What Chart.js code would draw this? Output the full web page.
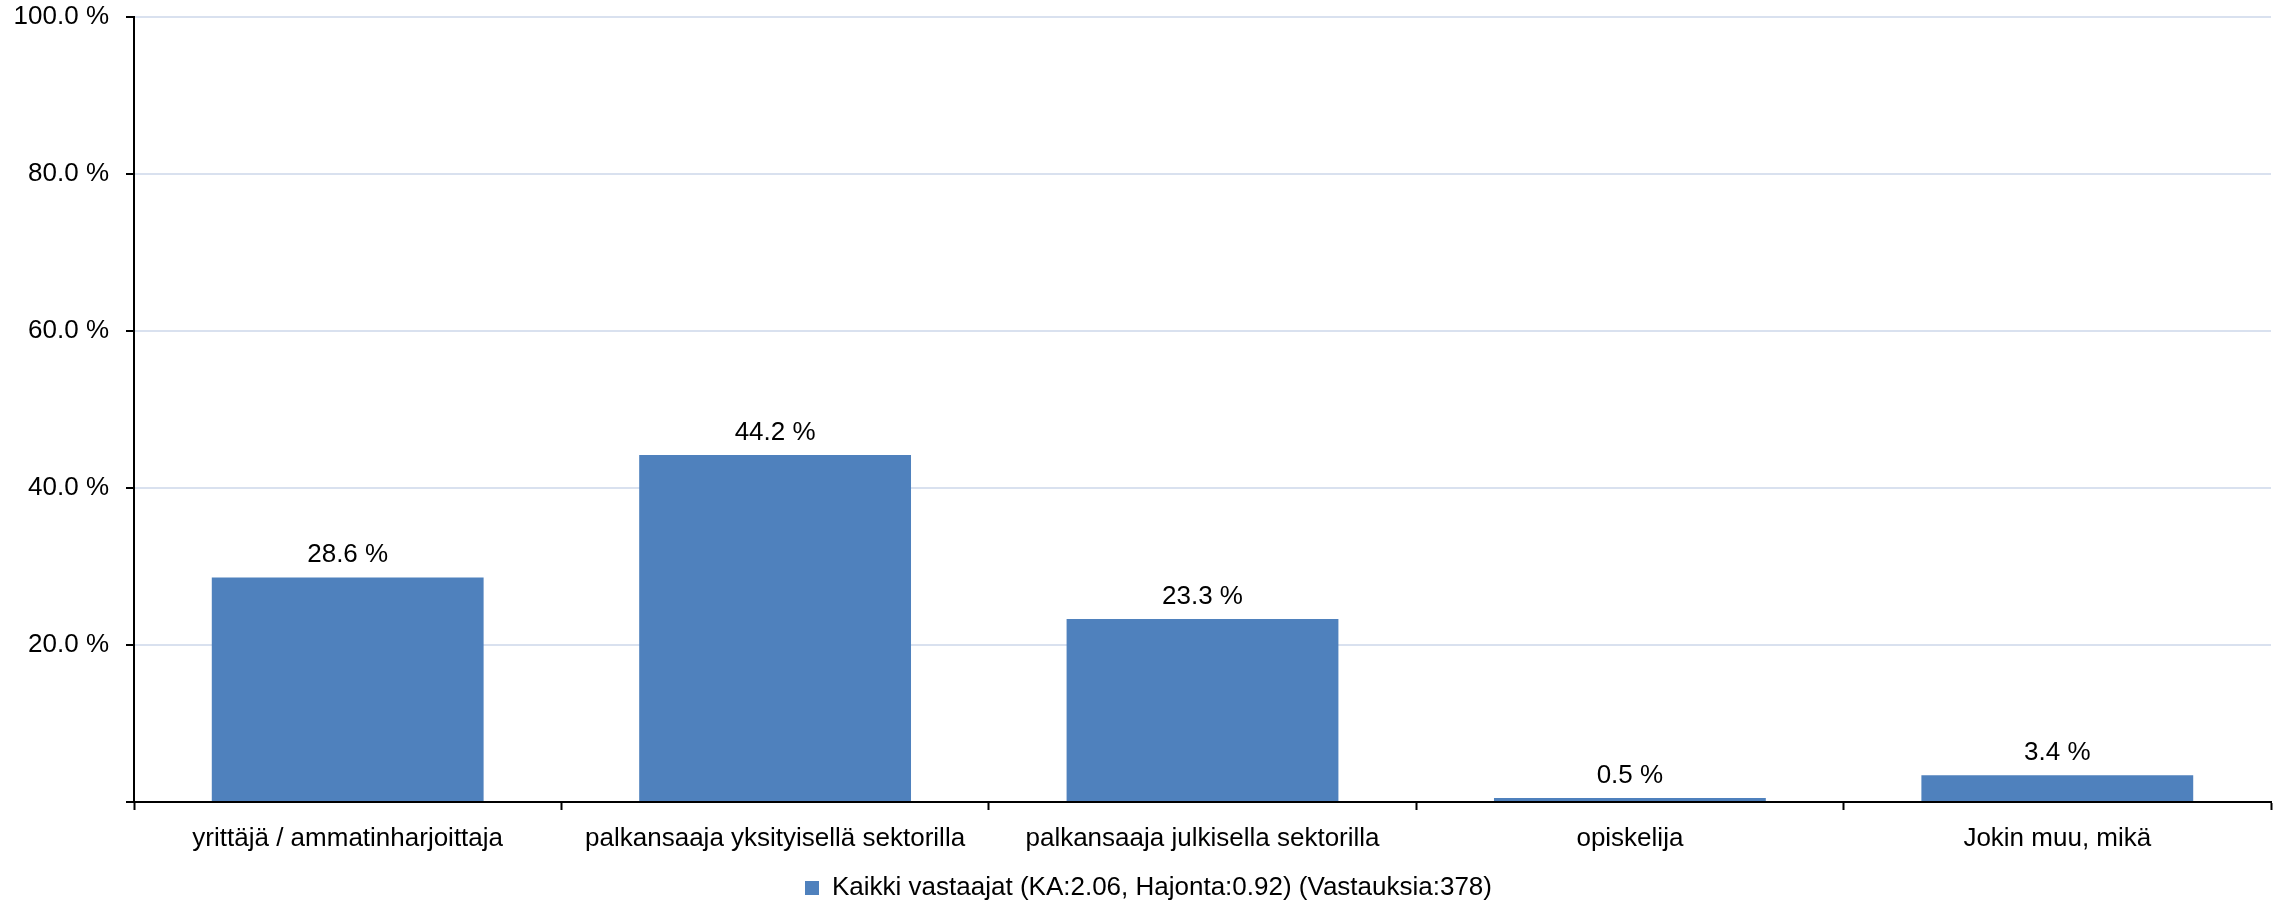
<!DOCTYPE html>
<html>
<head>
<meta charset="utf-8">
<script src="https://cdn.jsdelivr.net/npm/chart.js@4.4.1/dist/chart.umd.min.js"></script>
<style>
  html, body { margin: 0; padding: 0; background: #ffffff; }
  #wrap { width: 2280px; height: 905px; position: relative; }
</style>
</head>
<body>
<div id="wrap"><canvas id="c" width="2280" height="905"></canvas></div>
<script>
const categories = [
  "yrittäjä / ammatinharjoittaja",
  "palkansaaja yksityisellä sektorilla",
  "palkansaaja julkisella sektorilla",
  "opiskelija",
  "Jokin muu, mikä"
];
const seriesName = "Kaikki vastaajat (KA:2.06, Hajonta:0.92) (Vastauksia:378)";
const seriesValues = [28.6, 44.2, 23.3, 0.5, 3.4];
const yTickValues = [0, 20, 40, 60, 80, 100];
const yTickLabels = ["", "20.0 %", "40.0 %", "60.0 %", "80.0 %", "100.0 %"];

const FONT = "'Liberation Sans', Arial, sans-serif";
const FS = 26;
const BAR = "#4f81bd";

const valueLabels = {
  id: "valueLabels",
  afterDatasetsDraw(chart) {
    const ctx = chart.ctx;
    const meta = chart.getDatasetMeta(0);
    ctx.save();
    ctx.font = FS + "px " + FONT;
    ctx.fillStyle = "#000";
    ctx.textAlign = "center";
    ctx.textBaseline = "alphabetic";
    meta.data.forEach((bar, i) => {
      ctx.fillText(seriesValues[i].toFixed(1) + " %", bar.x, bar.y - 15);
    });
    ctx.restore();
  }
};

const legendShift = {
  id: "legendShift",
  afterLayout(chart) {
    if (chart.legend) {
      chart.legend.left += 13;
      chart.legend.right += 13;
    }
  }
};

new Chart(document.getElementById("c"), {
  type: "bar",
  data: {
    labels: categories,
    datasets: [{
      label: seriesName,
      data: seriesValues,
      backgroundColor: BAR,
      borderWidth: 0,
      categoryPercentage: 1.0,
      barPercentage: 0.636
    }]
  },
  options: {
    responsive: false,
    animation: false,
    devicePixelRatio: 1,
    layout: { padding: { top: 17, right: 9, left: 0, bottom: -6 } },
    plugins: {
      tooltip: { enabled: false },
      legend: {
        position: "bottom",
        labels: {
          boxWidth: 14,
          boxHeight: 14,
          padding: 1,
          color: "#000",
          font: { family: FONT, size: FS }
        }
      }
    },
    scales: {
      x: {
        offset: true,
        afterFit(scale) { scale.height = 72; scale.paddingLeft = 0; scale.paddingRight = 0; },
        grid: {
          offset: true,
          drawOnChartArea: false,
          drawTicks: true,
          tickLength: 8,
          tickColor: "#000",
          tickWidth: 2
        },
        border: { display: true, color: "#000", width: 2 },
        ticks: {
          color: "#000",
          padding: 13,
          maxRotation: 0,
          autoSkip: false,
          font: { family: FONT, size: FS }
        }
      },
      y: {
        min: 0,
        max: 100,
        afterFit(scale) { scale.width = 134; scale.paddingTop = 0; scale.paddingBottom = 0; },
        afterBuildTicks(scale) { scale.ticks = yTickValues.map(v => ({ value: v })); },
        grid: {
          color: "#d9e1ef",
          lineWidth: 2,
          drawTicks: true,
          tickLength: 8,
          tickColor: "#000",
          tickWidth: 2
        },
        border: { display: true, color: "#000", width: 2 },
        ticks: {
          color: "#000",
          padding: 17,
          font: { family: FONT, size: FS },
          callback(value) {
            const i = yTickValues.indexOf(value);
            return i >= 0 ? yTickLabels[i] : "";
          }
        }
      }
    }
  },
  plugins: [valueLabels, legendShift]
});
</script>
</body>
</html>
